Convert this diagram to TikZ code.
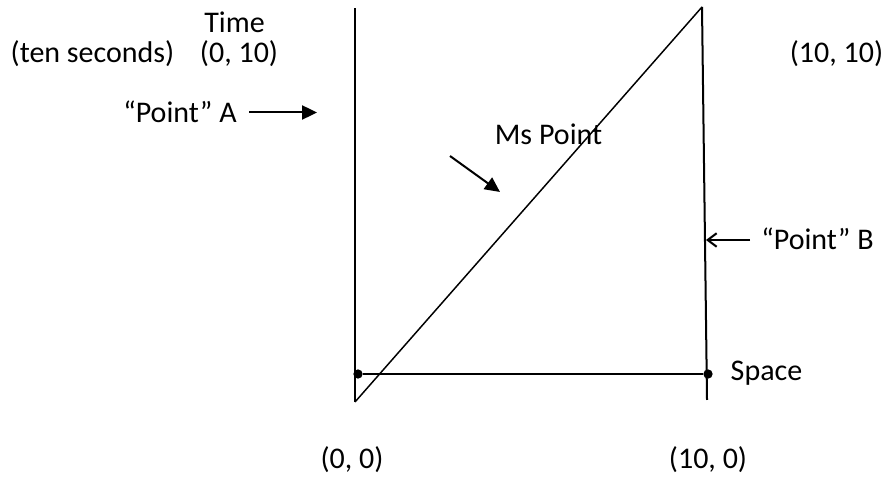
\documentclass[tikz,border=0pt]{standalone}
\usepackage{fontspec}
\setmainfont{Carlito}
\usetikzlibrary{arrows.meta,positioning}

\begin{document}
\begin{tikzpicture}[
  every node/.style={font=\fontsize{28.45}{34}\selectfont,inner sep=0pt},
  lbl/.style={anchor=base},
  dot/.style={circle,fill,inner sep=0pt,minimum size=0.31cm},
  pointer/.style={line width=1.9pt,-{Triangle[length=0.5cm,width=0.47cm]}},
  barb/.style={line width=1.9pt,-{Straight Barb[length=0.3cm,width=0.45cm]}},
]
\useasboundingbox (0,0) rectangle (29.5,-15.867);

% world lines
\coordinate (atop) at (11.833,-0.267);
\coordinate (o) at (11.833,-13.4);
\coordinate (apex) at (23.4,-0.233);
\coordinate (bbot) at (23.567,-13.333);
\node[dot] (s0) at (11.933,-12.467) {};
\node[dot] (s10) at (23.6,-12.467) {};
\draw[line width=2.8pt] (atop) -- (o);
\draw[line width=1.4pt] (o) -- (apex);
\draw[line width=1.9pt] (apex) -- (bbot);
\draw[line width=1.5pt] (s0) -- (s10);

% labels
\node[lbl] (time) at (7.817,-1.1) {Time};
\node[lbl] (tens) at (3.083,-2.1) {(ten seconds)};
\node[lbl] (t010) at (7.967,-2.1) {(0, 10)};
\node[lbl] (t1010) at (27.883,-2.1) {(10, 10)};
\node[lbl] (pa) at (6.0,-4.1) {“Point” A};
\node[lbl] (ms) at (18.283,-4.833) {Ms Point};
\node[lbl] (pb) at (27.25,-8.333) {“Point” B};
\node[lbl] (space) at (25.55,-12.667) {Space};
\node[lbl] (t00) at (11.733,-15.6) {(0, 0)};
\node[lbl] (t100) at (23.6,-15.6) {(10, 0)};

% pointers
\coordinate (pa-tail) at (8.3,-3.75);
\coordinate (pa-tip) at (10.567,-3.75);
\coordinate (ms-tail) at (15.0,-5.2);
\coordinate (ms-tip) at (16.667,-6.4);
\coordinate (pb-tail) at (25.0,-8.0);
\coordinate (pb-tip) at (23.533,-8.0);
\draw[pointer] (pa-tail) -- (pa-tip);
\draw[pointer] (ms-tail) -- (ms-tip);
\draw[barb] (pb-tail) -- (pb-tip);

\end{tikzpicture}
\end{document}
